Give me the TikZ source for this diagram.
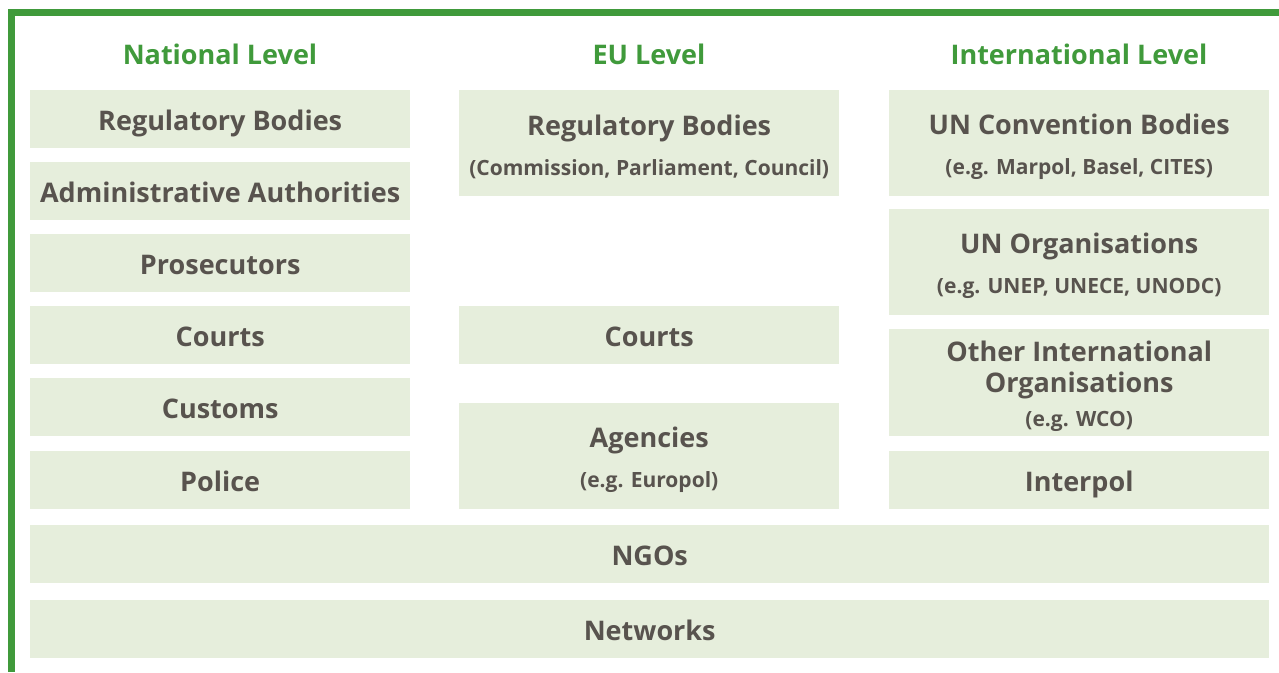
\documentclass[tikz,border=0pt]{standalone}
\usepackage{fontspec}
\setmainfont{Open Sans}
\usepackage{tikz}
\definecolor{framegreen}{RGB}{64,154,59}
\definecolor{boxfill}{RGB}{230,238,220}
\definecolor{boxtext}{RGB}{88,83,78}
\tikzset{x=1pt, y=-1pt,
  org box/.style={fill=boxfill, draw=none, anchor=north west,
     minimum width=380pt, inner sep=0pt, align=center, text=boxtext,
     font=\fontsize{27}{31}\selectfont\bfseries},
  org text/.style={inner sep=0pt, align=center, text=boxtext,
     font=\fontsize{27}{31}\selectfont\bfseries},
  one line/.style={text height=22.5pt, text depth=0pt},
  level title/.style={text=framegreen, text height=20pt, text depth=0pt,
     font=\fontsize{27}{30}\selectfont\bfseries},
  frame line/.style={draw=framegreen, line width=7pt}
}
\def\Sub#1#2{\\[#1]{\fontsize{21}{24}\selectfont #2}}
\def\OrgBox#1#2#3#4#5{%
  \node[org box, minimum height=#4] (#1) at (#2,#3) {};
  \node[org text] (#1Text) at ([yshift=-3.5pt]#1.center) {#5};
}
\def\OrgLine#1#2#3#4{%
  \node[org box, one line, minimum height=58pt] (#1) at (#2,#3) {#4};
}
\begin{document}
\begin{tikzpicture}
\useasboundingbox (0,0) rectangle (1279,672);
\draw[frame line] (1279,12) -- (11,12) -- (11,672);
% column titles
\node[level title] (natTitle) at (220,54) {National Level};
\node[level title] (euTitle) at (649,54) {EU Level};
\node[level title] (intTitle) at (1079,54) {International Level};
% national level
\OrgLine{natReg}{30}{90}{Regulatory Bodies}
\OrgLine{natAdmin}{30}{162}{Administrative Authorities}
\OrgLine{natPros}{30}{234}{Prosecutors}
\OrgLine{natCourts}{30}{306}{Courts}
\OrgLine{natCustoms}{30}{378}{Customs}
\OrgLine{natPolice}{30}{451}{Police}
% EU level
\OrgBox{euReg}{459}{90}{106}{Regulatory Bodies\Sub{9pt}{(Commission, Parliament, Council)}}
\OrgLine{euCourts}{459}{306}{Courts}
\OrgBox{euAgencies}{459}{403}{106}{Agencies\Sub{9pt}{(e.g. Europol)}}
% international level
\OrgBox{intConv}{889}{90}{106}{UN Convention Bodies\Sub{9pt}{(e.g. Marpol, Basel, CITES)}}
\OrgBox{intUN}{889}{209}{106}{UN Organisations\Sub{9pt}{(e.g. UNEP, UNECE, UNODC)}}
\OrgBox{intOther}{889}{329}{107}{Other International\\Organisations\Sub{3pt}{(e.g. WCO)}}
\OrgLine{intInterpol}{889}{451}{Interpol}
% all levels
\node[org box, one line, minimum width=1239pt, minimum height=58pt] (ngos) at (30,525) {NGOs};
\node[org box, one line, minimum width=1239pt, minimum height=58pt] (networks) at (30,600) {Networks};
\end{tikzpicture}
\end{document}
